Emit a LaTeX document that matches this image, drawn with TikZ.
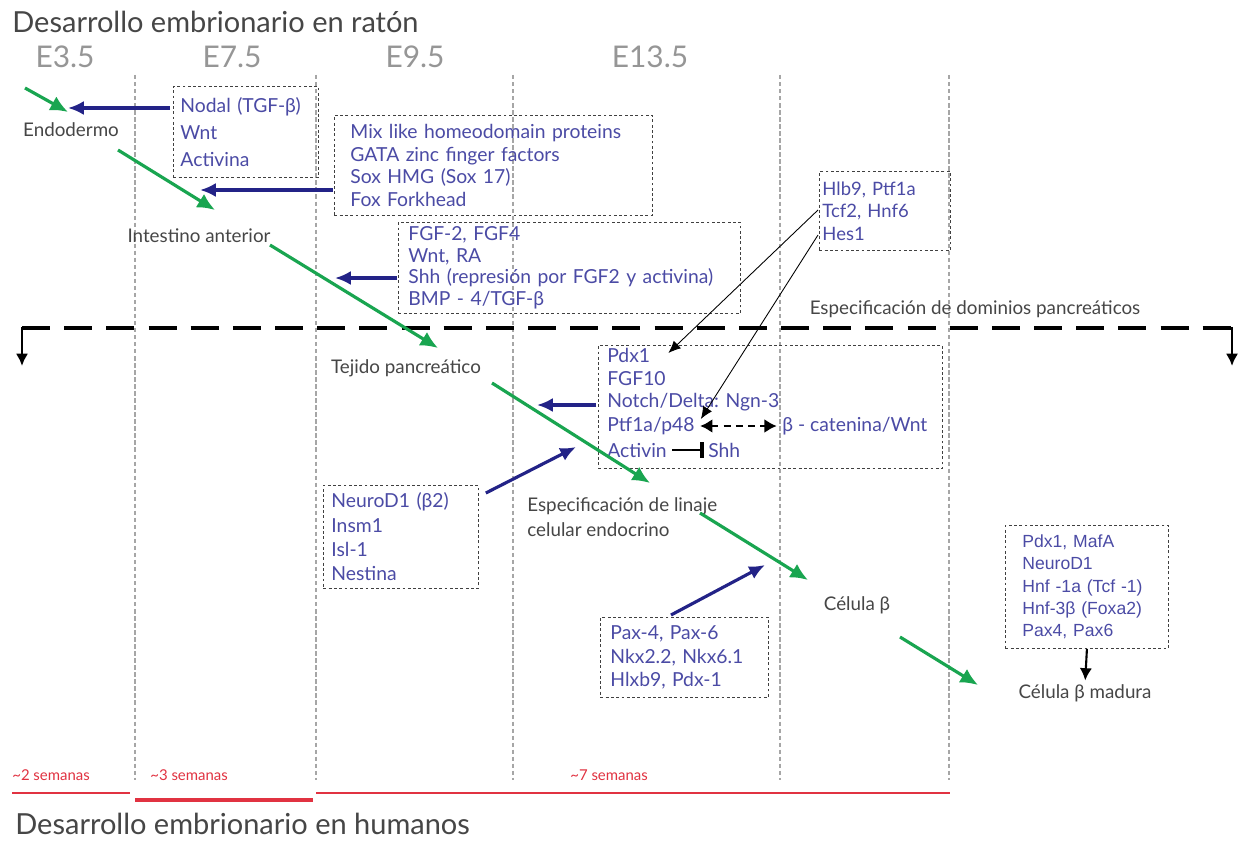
\documentclass[tikz,border=0pt]{standalone}
\usepackage{fontspec}
\setmainfont{Lato}
\newfontfamily\arialf{Liberation Sans}
\usetikzlibrary{arrows.meta,calc,positioning}
\definecolor{verde}{RGB}{25,165,80}
\definecolor{marino}{RGB}{35,35,135}
\definecolor{azultxt}{RGB}{75,75,165}
\definecolor{rojo}{RGB}{225,50,65}
\definecolor{grisE}{RGB}{150,150,150}
\definecolor{grisT}{RGB}{70,70,70}

\begin{document}
\begin{tikzpicture}[x=0.02cm, y=-0.02cm,
  caja/.style={draw=black!75, dash pattern=on 1.6pt off 1.4pt, line width=0.5pt, anchor=north west, inner ysep=0pt, align=left, text=azultxt},
  etapa/.style={inner sep=0pt, text=grisT, font=\fontsize{10.7}{13}\selectfont},
  gen/.style={inner sep=0pt, anchor=west, text=azultxt, font=\fontsize{11}{13}\selectfont},
  verdeflecha/.style={-{Latex[length=10pt,width=9pt]}, line width=1.8pt, verde},
  azulflecha/.style={-{Latex[length=9pt,width=8pt]}, line width=1.8pt, marino},
  negraflecha/.style={-{Latex[length=7pt,width=6pt]}, line width=0.5pt, black},
]
\fill[white] (0,0) rectangle (1246,841);
\useasboundingbox (0,0) rectangle (1246,841);

% Lineas verticales de guia
\foreach \x in {135,316,513,780,949}{
  \draw[gray!70, line width=0.9pt, dash pattern=on 2.5pt off 1.5pt] (\x,75) -- (\x,780);
}

% Titulo y etapas
\node[anchor=west, inner sep=0pt, text=grisT, font=\fontsize{16.5}{19}\selectfont] (titraton) at (12,22) {Desarrollo embrionario en ratón};
\foreach \n/\x/\t in {e35/65/E3.5, e75/232/E7.5, e95/415/E9.5, e135/650/E13.5}{
  \node[inner sep=0pt, text=grisE, font=\fontsize{17}{20}\selectfont] (\n) at (\x,57) {\t};
}

% Especificacion de dominios
\node[etapa] (dominios) at (975,309) {Especificación de dominios pancreáticos};
\draw[line width=2.3pt, dash pattern=on 16pt off 8pt] (22,328) -- (1232,328);
\draw[line width=1.6pt, -{Latex[length=7pt,width=7pt]}] (22,327) -- (22,366);
\draw[line width=1.6pt, -{Latex[length=7pt,width=7pt]}] (1232,327) -- (1232,366);

% Etapas del linaje
\node[etapa] (endo) at (71,130) {Endodermo};
\node[etapa] (intest) at (199,236) {Intestino anterior};
\node[etapa] (tejido) at (406,368) {Tejido pancreático};
\node[etapa, anchor=west, align=left, font=\fontsize{10.7}{14.2}\selectfont] (espec) at (527,517) {Especificación de linaje\\celular endocrino};
\node[etapa] (celb) at (857,605) {Célula β};
\node[etapa] (madura) at (1085,693) {Célula β madura};

% Cajas de factores
\node[caja, minimum width=2.90cm, minimum height=1.82cm, inner xsep=0.14cm, text width=2.62cm, font=\fontsize{11}{15.4}\selectfont] (cajaA) at (173,86) {Nodal (TGF-β)\\Wnt\\Activina};
\node[caja, minimum width=6.36cm, minimum height=2.00cm, inner xsep=0.32cm, text width=5.72cm, font=\fontsize{11}{12.9}\selectfont] (cajaB) at (334,115) {Mix like homeodomain proteins\\GATA zinc finger factors\\Sox HMG (Sox 17)\\Fox Forkhead};
\node[caja, minimum width=6.84cm, minimum height=1.82cm, inner xsep=0.20cm, text width=6.44cm, font=\fontsize{11}{12.3}\selectfont] (cajaC) at (398,222) {FGF-2, FGF4\\Wnt, RA\\Shh (represión por FGF2 y activina)\\BMP - 4/TGF-β};
\node[caja, minimum width=2.62cm, minimum height=1.58cm, inner xsep=0.06cm, text width=2.50cm, font=\fontsize{10.5}{12.8}\selectfont] (cajaD) at (819,171) {Hlb9, Ptf1a\\Tcf2, Hnf6\\Hes1};
\node[caja, minimum width=6.88cm, minimum height=2.46cm] (cajaE) at (598,345) {};
\node[caja, minimum width=3.10cm, minimum height=2.06cm, inner xsep=0.16cm, text width=2.78cm, font=\fontsize{11}{13.8}\selectfont] (cajaF) at (323,485) {NeuroD1 (β2)\\Insm1\\Isl-1\\Nestina};
\node[caja, minimum width=3.36cm, minimum height=1.60cm, inner xsep=0.20cm, text width=2.96cm, font=\fontsize{11}{13.4}\selectfont] (cajaG) at (600,617) {Pax-4, Pax-6\\Nkx2.2, Nkx6.1\\Hlxb9, Pdx-1};
\node[caja, minimum width=3.26cm, minimum height=2.46cm, inner xsep=0.34cm, text width=2.58cm, font=\arialf\fontsize{10}{12.7}\selectfont] (cajaH) at (1005,525) {Pdx1, MafA\\NeuroD1\\Hnf -1a (Tcf -1)\\Hnf-3β (Foxa2)\\Pax4, Pax6};

% Contenido de la caja E
\node[gen] (e1) at (607,355) {Pdx1};
\node[gen] (e2) at (607,379) {FGF10};
\node[gen] (e3) at (607,402) {Notch/Delta: Ngn-3};
\node[gen] (e4) at (607,426) {Ptf1a/p48};
\node[gen] (bcat) at (782,426) {β - catenina/Wnt};
\node[gen] (e5) at (607,450) {Activin};
\node[gen] (shh) at (708,450) {Shh};
\draw[line width=1.5pt, dash pattern=on 4pt off 3pt, {Latex[length=7pt,width=8pt]}-{Latex[length=7pt,width=8pt]}, shorten <=3pt, shorten >=3pt] (e4.east) -- (bcat.west);
\draw[line width=1.6pt, -{Bar[width=9pt,line width=2.5pt]}, shorten >=2pt, shorten <=3pt] (e5.east) -- (shh.west);

% Extremos libres
\coordinate (g1s) at (25,88);
\coordinate (fB1) at (68,108);
\coordinate (fB2) at (200,190);
\coordinate (fB3) at (335,278);
\coordinate (fB4) at (537,405);
\coordinate (fB5) at (576,447);
\coordinate (fB6) at (765,565);

% Flechas verdes
\draw[verdeflecha] (g1s) -- ($(endo)+(-3,-18)$);
\draw[verdeflecha] ($(endo)+(47,20)$) -- ($(intest)+(16,-26)$);
\draw[verdeflecha] ($(intest)+(71,9)$) -- ($(tejido)+(32,-20)$);
\draw[verdeflecha] ($(tejido)+(86,15)$) -- ($(espec.west)+(123,-34)$);
\draw[verdeflecha] ($(espec.west)+(173,-4)$) -- ($(celb)+(-49,-25)$);
\draw[verdeflecha] ($(celb)+(43,32)$) -- ($(madura)+(-107,-8)$);

% Flechas azules
\draw[azulflecha] ($(cajaA.north west)+(-3,22)$) -- (fB1);
\draw[azulflecha] ($(cajaB.north west)+(-1,75)$) -- (fB2);
\draw[azulflecha] ($(cajaC.north west)+(-1,56)$) -- (fB3);
\draw[azulflecha] ($(cajaE.north west)+(-2,60)$) -- (fB4);
\draw[azulflecha] ($(cajaF.north east)+(7,8)$) -- (fB5);
\draw[azulflecha] ($(cajaG.north west)+(71,-2)$) -- (fB6);

% Flechas negras
\draw[negraflecha] ($(cajaD.north west)+(-1,39)$) -- ($(e1.east)+(18,-2)$);
\draw[negraflecha] ($(cajaD.north west)+(-1,64)$) -- ($(e4.east)+(6,-7)$);
\draw[-{Latex[length=7pt,width=7pt]}, line width=1.2pt, shorten >=2pt] (cajaH.south) -- (madura.north);

% Semanas en humanos
\node[anchor=west, inner sep=0pt, text=rojo, font=\fontsize{8.5}{10}\selectfont] (s2) at (12,775) {\textasciitilde 2 semanas};
\node[anchor=west, inner sep=0pt, text=rojo, font=\fontsize{8.5}{10}\selectfont] (s3) at (150,775) {\textasciitilde 3 semanas};
\node[anchor=west, inner sep=0pt, text=rojo, font=\fontsize{8.5}{10}\selectfont] (s7) at (570,775) {\textasciitilde 7 semanas};
\draw[rojo, line width=1.6pt] (12,793) -- (130,793);
\draw[rojo, line width=2.4pt] (135,800) -- (313,800);
\draw[rojo, line width=1.6pt] (316,793) -- (950,793);
\node[anchor=west, inner sep=0pt, text=grisT, font=\fontsize{16.5}{19}\selectfont] (tithum) at (15,824) {Desarrollo embrionario en humanos};

\end{tikzpicture}
\end{document}
